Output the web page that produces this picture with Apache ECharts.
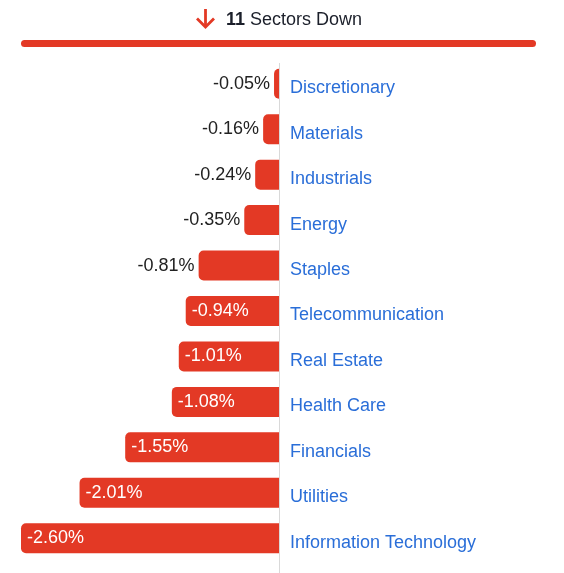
<!DOCTYPE html>
<html>
<head>
<meta charset="utf-8">
<script src="https://cdn.jsdelivr.net/npm/echarts@6/dist/echarts.min.js"></script>
<style>
  html, body { margin: 0; padding: 0; background: #fff; }
  #chart { width: 564px; height: 573px; }
</style>
</head>
<body>
<div id="chart"></div>
<script>
var chart = echarts.init(document.getElementById('chart'));

var sectors = ['Discretionary', 'Materials', 'Industrials', 'Energy', 'Staples', 'Telecommunication',
    'Real Estate', 'Health Care', 'Financials', 'Utilities', 'Information Technology'];
var changes = [-0.05, -0.16, -0.24, -0.35, -0.81, -0.94, -1.01, -1.08, -1.55, -2.01, -2.60];
var downCount = 11;

var RED = '#e33925';
var BLUE = '#2a6ed8';
var FONT = 'Liberation Sans';

// small bars get the label outside, wide ones inside in white
var barData = changes.map(function (v) {
    var inside = v <= -0.9;
    return {
        value: v,
        label: inside ? {
            position: 'insideLeft',
            color: '#fff',
            distance: 6
        } : {
            position: 'left',
            color: '#222',
            distance: 4
        }
    };
});

var option = {
    animation: false,
    title: {
        text: '{b|' + downCount + '} Sectors Down',
        left: 221,
        top: 6,
        textStyle: {
            fontFamily: FONT,
            fontSize: 18,
            fontWeight: 'normal',
            color: '#1b1f2a',
            rich: {
                b: { fontFamily: FONT, fontSize: 18, fontWeight: 'bold', color: '#1b1f2a' }
            }
        }
    },
    graphic: [
        { // arrow
            type: 'group',
            children: [
                { type: 'line', shape: { x1: 205.5, y1: 9, x2: 205.5, y2: 27 }, style: { stroke: RED, lineWidth: 2.8 } },
                { type: 'polyline', shape: { points: [[197, 18.5], [205.5, 27], [214, 18.5]] }, style: { stroke: RED, lineWidth: 2.8, fill: null } }
            ]
        },
        { // red bar under the header
            type: 'rect',
            shape: { x: 21, y: 40, width: 515, height: 7, r: 3.5 },
            style: { fill: RED }
        },
        { // grey divider
            type: 'line',
            z: -1,
            shape: { x1: 279.5, y1: 63, x2: 279.5, y2: 573 },
            style: { stroke: '#d9d9d9', lineWidth: 1 }
        }
    ],
    grid: {
        left: 21,
        right: 285,
        top: 61,
        bottom: 12
    },
    xAxis: {
        type: 'value',
        min: -2.6,
        max: 0,
        show: false
    },
    yAxis: {
        type: 'category',
        data: sectors,
        inverse: true,
        position: 'right',
        axisLine: { show: false },
        axisTick: { show: false },
        axisLabel: {
            margin: 11,
            fontFamily: FONT,
            fontSize: 18,
            color: BLUE,
            verticalAlign: 'top',
            lineHeight: 9
        }
    },
    series: [{
        type: 'bar',
        data: barData,
        barWidth: 30,
        itemStyle: {
            color: RED,
            borderRadius: [5, 0, 0, 5]
        },
        label: {
            show: true,
            fontFamily: FONT,
            fontSize: 18,
            formatter: function (p) {
                return p.value.toFixed(2) + '%';
            }
        }
    }]
};

chart.setOption(option);
</script>
</body>
</html>
